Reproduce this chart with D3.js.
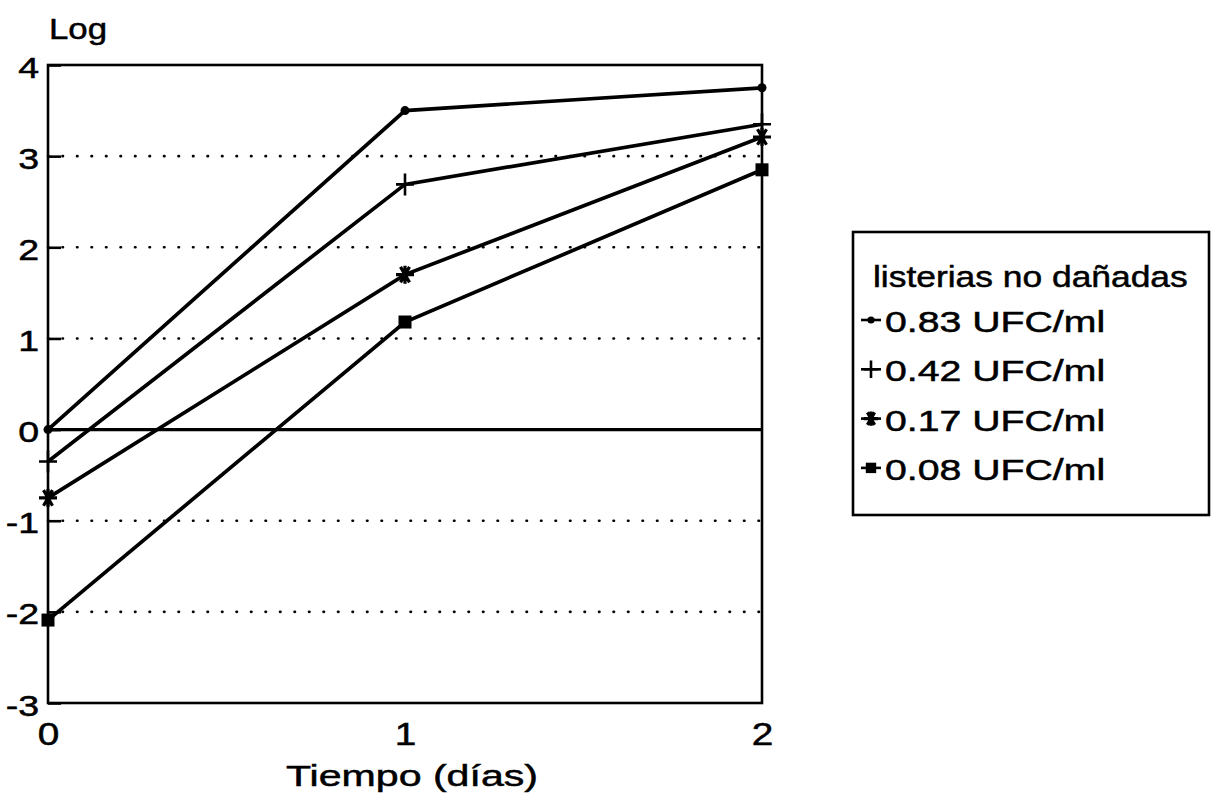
<!DOCTYPE html>
<html>
<head>
<meta charset="utf-8">
<script src="https://cdn.jsdelivr.net/npm/d3@7"></script>
<style>
  body { margin: 0; background: #fff; }
  text { font-family: "Liberation Sans", Arial, sans-serif; fill: #000; stroke: #000; stroke-width: 0.5px; }
</style>
</head>
<body>
<svg id="chart" width="1224" height="808"></svg>
<script>
// Data
const days = [0, 1, 2];
const series_labels = ["0.83 UFC/ml", "0.42 UFC/ml", "0.17 UFC/ml", "0.08 UFC/ml"];
const series_markers = ["dot", "plus", "star", "square"];
const log_083 = [0.0, 3.5, 3.75];
const log_042 = [-0.35, 2.69, 3.35];
const log_017 = [-0.75, 1.7, 3.21];
const log_008 = [-2.09, 1.18, 2.85];
const y_ticks = [-3, -2, -1, 0, 1, 2, 3, 4];
const grid_ticks = [-2, -1, 1, 2, 3];
const x_ticks = [0, 1, 2];

const all_series = [log_083, log_042, log_017, log_008];

const svg = d3.select("#chart");

const x = d3.scaleLinear().domain([0, 2]).range([48, 762]);
const y = d3.scaleLinear().domain([-3, 4]).range([703, 65]);

// Wide text helper (the scanned font is wider than Liberation Sans)
function add_text(parent, px, py, str, size, sx, anchor) {
  return parent.append("text")
    .attr("transform", "translate(" + px + "," + py + ") scale(" + sx + ",1)")
    .attr("text-anchor", anchor || "start")
    .style("font-size", size + "px")
    .text(str);
}

// Dotted grid
svg.append("g")
  .selectAll("line")
  .data(grid_ticks)
  .enter()
  .append("line")
  .attr("x1", x(0))
  .attr("x2", x(2))
  .attr("y1", d => y(d))
  .attr("y2", d => y(d))
  .style("stroke", "#000")
  .style("stroke-width", 2.6)
  .style("stroke-dasharray", "0.5 14")
  .style("stroke-linecap", "round");

// Zero line
svg.append("line")
  .attr("x1", x(0)).attr("x2", x(2))
  .attr("y1", y(0)).attr("y2", y(0))
  .style("stroke", "#000").style("stroke-width", 3.2);

// Frame
svg.append("rect")
  .attr("x", x(0)).attr("y", y(4))
  .attr("width", x(2) - x(0)).attr("height", y(-3) - y(4))
  .style("fill", "none").style("stroke", "#000").style("stroke-width", 2.6);

// Axes
const y_axis = d3.axisLeft(y).tickValues(y_ticks).tickSize(-13).tickFormat(d => String(d));
const ya = svg.append("g").attr("transform", "translate(" + x(0) + ",0)").call(y_axis);
ya.select(".domain").remove();
ya.selectAll("line").style("stroke-width", 2.6);
ya.selectAll("text")
  .attr("x", null).attr("dy", null)
  .attr("transform", "translate(-9,12) scale(1.25,1)")
  .style("font-size", "30px");

const x_axis = d3.axisBottom(x).tickValues(x_ticks).tickSize(0).tickFormat(d => String(d));
const xa = svg.append("g").attr("transform", "translate(0," + y(-3) + ")").call(x_axis);
xa.select(".domain").remove();
xa.selectAll("text")
  .attr("y", null).attr("dy", null)
  .attr("transform", "translate(0,42) scale(1.25,1)")
  .style("font-size", "31px");

// Axis titles
add_text(svg, 49, 39, "Log", 29, 1.2);
add_text(svg, 412, 786, "Tiempo (días)", 30, 1.37, "middle");

// Markers
function draw_marker(g, type, cx, cy, s) {
  if (type === "dot") {
    g.append("circle").attr("cx", cx).attr("cy", cy).attr("r", 4.5 * s).style("fill", "#000");
  } else if (type === "plus") {
    g.append("path")
      .attr("d", `M${cx - 9 * s},${cy}H${cx + 9 * s}M${cx},${cy - 11 * s}V${cy + 11 * s}`)
      .style("stroke", "#000").style("stroke-width", 2.6);
  } else if (type === "star") {
    const r = 9 * s;
    let d = `M${cx - r},${cy}H${cx + r}`;
    [60, 120].forEach(a => {
      const dx = r * Math.cos(a * Math.PI / 180), dy = r * Math.sin(a * Math.PI / 180);
      d += `M${cx - dx},${cy - dy}L${cx + dx},${cy + dy}`;
    });
    d += `M${cx},${cy - r}V${cy + r}`;
    g.append("path").attr("d", d).style("stroke", "#000").style("stroke-width", 3.2);
  } else {
    g.append("rect").attr("x", cx - 6.5 * s).attr("y", cy - 6.5 * s)
      .attr("width", 13 * s).attr("height", 13 * s).style("fill", "#000");
  }
}

const line = d3.line().x((d, i) => x(days[i])).y(d => y(d));

all_series.forEach((vals, k) => {
  const g = svg.append("g");
  g.append("path").attr("d", line(vals))
    .style("fill", "none").style("stroke", "#000").style("stroke-width", 3.7);
  vals.forEach((v, i) => draw_marker(g, series_markers[k], x(days[i]), y(v), 1));
});

// Legend
const legend = svg.append("g").attr("id", "legend");
legend.append("rect").attr("x", 853).attr("y", 232).attr("width", 356).attr("height", 283)
  .style("fill", "none").style("stroke", "#000").style("stroke-width", 2.6);
add_text(legend, 873, 287, "listerias no dañadas", 30, 1.18);

const entry = legend.selectAll("g.legend_entry")
  .data(series_labels)
  .enter()
  .append("g")
  .attr("class", "legend_entry");

entry.each(function (d, i) {
  const g = d3.select(this);
  const base = 332 + i * 49.3;
  const cy = base - 12;
  g.append("line").attr("x1", 861).attr("x2", 881).attr("y1", cy).attr("y2", cy)
    .style("stroke", "#000").style("stroke-width", 2.6);
  draw_marker(g, series_markers[i], 871, cy, 0.8);
  add_text(g, 885, base, d, 29.5, 1.33);
});
</script>
</body>
</html>
